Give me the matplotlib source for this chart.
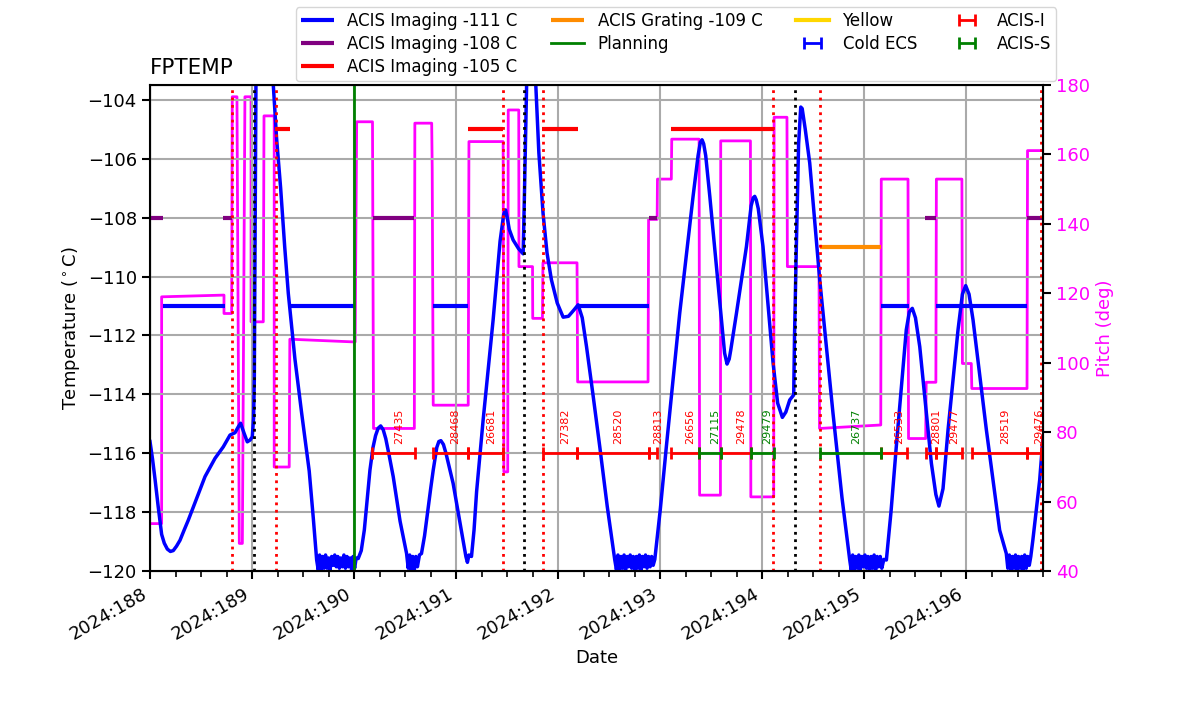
import numpy as np
import matplotlib
matplotlib.use("Agg")
import matplotlib.pyplot as plt
from matplotlib.ticker import MultipleLocator, FuncFormatter

# model FPTEMP (day of year 2024, deg C)
fptemp_pts = [
    (188.000, -115.6), (188.025, -116.2), (188.05, -116.9), (188.08, -117.8),
    (188.114, -118.75), (188.14, -119.05), (188.17, -119.25), (188.2, -119.33),
    (188.228, -119.3), (188.26, -119.15), (188.294, -118.95), (188.335, -118.6),
    (188.375, -118.27), (188.457, -117.53),
    (188.539, -116.79), (188.637, -116.17), (188.718, -115.78), (188.784, -115.38),
    (188.833, -115.30), (188.865, -115.1), (188.888, -114.98), (188.92, -115.3),
    (188.953, -115.61), (188.98, -115.55),
    (189.002, -115.44), (189.015, -114.8), (189.022, -113.5), (189.03, -108.5),
    (189.038, -103.5), (189.08, -100.5), (189.14, -100.0), (189.208, -103.5),
    (189.24, -105.3), (189.28, -107.0), (189.32, -109.0), (189.355, -110.57),
    (189.42, -112.8), (189.486, -114.64), (189.56, -116.6), (189.6, -118.2),
    (189.633, -119.62),
    (189.648, -119.95), (189.662, -119.45), (189.676, -119.95), (189.69, -119.5),
    (189.705, -119.9), (189.72, -119.45), (189.735, -119.9), (189.75, -119.55),
    (189.765, -119.95), (189.78, -119.5), (189.795, -119.8), (189.81, -119.45),
    (189.825, -119.85), (189.84, -119.5), (189.855, -119.9), (189.87, -119.55),
    (189.885, -119.85), (189.9, -119.45), (189.915, -119.9), (189.93, -119.5),
    (189.945, -119.85), (189.96, -119.55), (189.975, -119.95), (189.99, -119.5),
    (190.005, -119.9), (190.02, -119.55), (190.04, -119.57),
    (190.07, -119.3), (190.1, -118.6), (190.13, -117.5), (190.155, -116.57),
    (190.185, -115.8), (190.21, -115.4), (190.235, -115.15), (190.26, -115.07),
    (190.285, -115.2), (190.31, -115.5), (190.345, -116.1), (190.383, -116.79),
    (190.45, -118.3), (190.514, -119.4),
    (190.53, -119.9), (190.545, -119.45), (190.56, -119.95), (190.575, -119.5),
    (190.59, -119.95), (190.605, -119.5), (190.62, -119.85), (190.64, -119.45),
    (190.66, -119.4), (190.69, -118.8), (190.72, -118.0), (190.75, -117.2),
    (190.775, -116.57), (190.81, -115.8), (190.83, -115.6),
    (190.85, -115.57), (190.875, -115.7), (190.9, -116.0), (190.97, -117.02),
    (191.04, -118.4), (191.095, -119.5), (191.11, -119.7), (191.125, -119.45),
    (191.15, -119.5), (191.175, -118.6),
    (191.2, -117.3), (191.264, -114.87), (191.362, -111.47), (191.43, -108.8),
    (191.465, -107.9), (191.484, -107.74), (191.5, -108.0), (191.52, -108.4),
    (191.558, -108.76), (191.61, -109.05),
    (191.656, -109.23), (191.67, -107.0), (191.69, -103.5), (191.72, -101.5),
    (191.75, -101.5), (191.78, -103.5), (191.81, -105.8), (191.851, -107.85),
    (191.89, -109.2), (191.933, -110.11), (191.99, -110.9), (192.048, -111.38),
    (192.1, -111.35), (192.15, -111.15), (192.195, -110.96), (192.235, -111.4),
    (192.277, -112.38), (192.34, -114.0), (192.407, -115.78), (192.48, -117.8),
    (192.554, -119.62),
    (192.57, -119.95), (192.585, -119.45), (192.6, -119.95), (192.615, -119.5),
    (192.63, -119.9), (192.645, -119.45), (192.66, -119.95), (192.675, -119.5),
    (192.69, -119.85), (192.705, -119.45), (192.72, -119.9), (192.735, -119.5),
    (192.75, -119.95), (192.765, -119.5), (192.78, -119.9), (192.795, -119.45),
    (192.81, -119.95), (192.825, -119.5), (192.84, -119.85), (192.855, -119.45),
    (192.87, -119.9), (192.885, -119.5), (192.9, -119.85), (192.915, -119.5),
    (192.93, -119.8), (192.946, -119.6),
    (193.0, -117.9), (193.059, -115.78), (193.19, -111.25), (193.321, -107.28),
    (193.37, -105.9), (193.392, -105.45), (193.409, -105.36), (193.425, -105.5),
    (193.445, -105.9), (193.485, -107.28),
    (193.599, -111.47), (193.63, -112.6), (193.654, -112.97), (193.675, -112.8),
    (193.69, -112.5), (193.746, -111.25), (193.844, -108.98), (193.89, -107.6),
    (193.91, -107.33), (193.925, -107.28), (193.94, -107.4),
    (193.96, -107.7), (194.006, -108.98), (194.105, -112.94), (194.15, -114.3),
    (194.196, -114.78), (194.23, -114.6), (194.268, -114.19), (194.307, -114.02),
    (194.315, -112.0), (194.333, -108.98), (194.355, -105.5), (194.376, -104.25),
    (194.39, -104.3), (194.42, -105.0), (194.464, -106.15), (194.562, -110.11),
    (194.692, -114.64), (194.78, -117.5), (194.856, -119.62),
    (194.87, -119.95), (194.885, -119.45), (194.9, -119.95), (194.915, -119.5),
    (194.93, -119.9), (194.945, -119.45), (194.96, -119.95), (194.975, -119.5),
    (194.99, -119.85), (195.005, -119.45), (195.02, -119.9), (195.035, -119.5),
    (195.05, -119.95), (195.065, -119.5), (195.08, -119.9), (195.095, -119.45),
    (195.11, -119.95), (195.125, -119.5), (195.14, -119.85), (195.155, -119.5),
    (195.17, -119.9), (195.19, -119.6), (195.215, -119.62),
    (195.26, -118.0), (195.312, -115.78), (195.41, -111.81), (195.44, -111.2),
    (195.469, -111.08), (195.5, -111.4), (195.542, -112.38), (195.656, -116.34),
    (195.7, -117.4), (195.73, -117.79), (195.77, -117.2), (195.819, -115.21),
    (195.917, -111.81), (195.96, -110.6), (195.992, -110.31), (196.025, -110.6),
    (196.064, -111.47), (196.195, -115.21), (196.325, -118.61), (196.39, -119.4),
    (196.405, -119.9), (196.42, -119.45), (196.435, -119.95), (196.45, -119.5),
    (196.465, -119.9), (196.48, -119.45), (196.495, -119.95), (196.51, -119.5),
    (196.525, -119.9), (196.54, -119.5), (196.555, -119.95), (196.57, -119.45),
    (196.585, -119.9), (196.6, -119.5), (196.615, -119.8), (196.63, -119.5),
    (196.65, -118.95), (196.717, -116.91), (196.75, -115.44),
]

# pitch (deg)
pitch_pts = [
    (188.0, 53.7), (188.114, 53.7), (188.114, 119.0), (188.725, 119.5),
    (188.725, 114.2), (188.80, 114.2), (188.806, 176.6), (188.852, 176.6),
    (188.875, 48.0), (188.905, 48.0), (188.93, 176.6), (188.99, 176.6),
    (188.99, 111.8), (189.11, 111.8), (189.117, 171.1), (189.217, 171.1),
    (189.217, 70.0), (189.364, 70.0), (189.37, 106.8), (190.01, 106.0),
    (190.025, 169.4), (190.18, 169.4), (190.19, 81.1), (190.59, 81.1),
    (190.595, 169.0), (190.76, 169.0), (190.765, 156.0), (190.775, 87.8),
    (191.118, 87.8), (191.125, 163.7), (191.46, 163.7), (191.467, 68.6),
    (191.505, 68.6), (191.51, 172.8), (191.613, 172.8), (191.615, 127.7),
    (191.748, 127.7), (191.75, 112.8), (191.845, 112.8), (191.85, 128.8),
    (192.184, 128.8), (192.19, 94.5), (192.88, 94.5), (192.885, 141.3),
    (192.969, 141.3), (192.972, 152.9), (193.108, 152.9), (193.112, 164.4),
    (193.38, 164.4), (193.385, 61.9), (193.589, 61.9), (193.592, 163.9),
    (193.883, 163.9), (193.887, 61.4), (194.111, 61.4), (194.115, 170.7),
    (194.241, 170.7), (194.245, 127.7), (194.555, 127.7), (194.56, 81.1),
    (195.16, 82.1), (195.165, 152.9), (195.427, 152.9), (195.432, 78.2),
    (195.60, 78.2), (195.605, 94.4), (195.70, 94.4), (195.705, 152.9),
    (195.955, 152.9), (195.96, 99.8), (196.047, 99.8), (196.052, 92.6),
    (196.593, 92.6), (196.598, 161.1), (196.75, 161.1),
]

# limit segments (start, stop)
lim_111 = [(188.13, 188.735), (189.364, 190.0), (190.775, 191.118),
           (192.18, 192.886), (195.166, 195.437), (195.70, 196.595)]
lim_108 = [(188.0, 188.13), (188.718, 188.806), (190.187, 190.588),
           (192.886, 192.968), (195.59, 195.70), (196.595, 196.75)]
lim_105 = [(189.224, 189.37), (191.118, 191.46), (191.845, 192.195),
           (193.108, 194.111)]
lim_109 = [(194.562, 195.166)]
planning_time = 190.0

red_events = [188.806, 189.231, 191.46, 191.852, 194.105, 194.568, 196.733]
black_events = [189.021, 191.666, 194.324]

# observations (start, stop, obsid)
acis_i = [(190.18, 190.596, "27435"), (190.768, 191.118, "28468"),
          (191.118, 191.46, "26681"), (191.852, 192.184, "27382"),
          (192.18, 192.886, "28520"), (192.886, 192.968, "28813"),
          (193.108, 193.38, "26656"), (193.598, 193.892, "29478"),
          (195.166, 195.42, "26533"), (195.606, 195.697, "28801"),
          (195.697, 195.958, "29477"), (196.056, 196.595, "28519"),
          (196.595, 196.733, "29476")]
acis_s = [(193.38, 193.598, "27115"), (193.892, 194.111, "29479"),
          (194.568, 195.166, "26737")]
obs_y = -116.0

fig = plt.figure(figsize=(12, 7.14), dpi=100)
ax = fig.add_axes([0.125, 0.200, 0.7442, 0.681])
ax2 = ax.twinx()
ax.set_zorder(ax2.get_zorder() + 1)
ax.patch.set_visible(False)

p = np.array(pitch_pts)
ax2.plot(p[:, 0], p[:, 1], color="magenta", lw=2)
ax2.set_ylim(40, 180)
ax2.set_ylabel("Pitch (deg)", color="magenta", fontsize=13)
ax2.tick_params(axis="y", labelcolor="magenta", labelsize=13, length=6, width=1.5)

t = np.array(fptemp_pts)
ax.plot(t[:, 0], t[:, 1], color="blue", lw=2.5)

handles = []
for segs, col, lab in [(lim_111, "blue", "ACIS Imaging -111 C"),
                       (lim_108, "purple", "ACIS Imaging -108 C"),
                       (lim_105, "red", "ACIS Imaging -105 C"),
                       (lim_109, "darkorange", "ACIS Grating -109 C")]:
    val = float(lab.split()[-2])
    h = ax.hlines([val] * len(segs), [s[0] for s in segs], [s[1] for s in segs],
                  colors=col, lw=3, label=lab)
    handles.append(h)

h = ax.axvline(planning_time, color="green", lw=2, label="Planning")
handles.append(h)
h, = ax.plot([], [], color="gold", lw=3, label="Yellow")
handles.append(h)

for x in red_events:
    ax.axvline(x, color="red", ls=":", lw=2)
for x in black_events:
    ax.axvline(x, color="black", ls=":", lw=2)

h = ax.errorbar([np.nan], [np.nan], xerr=[np.nan], fmt="none", ecolor="blue",
                elinewidth=2, capsize=4, capthick=2, label="Cold ECS")
handles.append(h)
for obs, col, lab in [(acis_i, "red", "ACIS-I"), (acis_s, "green", "ACIS-S")]:
    mid = np.array([(a + b) / 2 for a, b, _ in obs])
    half = np.array([(b - a) / 2 for a, b, _ in obs])
    h = ax.errorbar(mid, np.full(len(mid), obs_y), xerr=half, fmt="none",
                    ecolor=col, elinewidth=2, capsize=4, capthick=2, label=lab)
    handles.append(h)
    for m, (_, _, name) in zip(mid, obs):
        ax.text(m, obs_y + 0.3, name, color=col, fontsize=8, rotation=90,
                ha="left", va="bottom", clip_on=True)

ax.set_xlim(188.0, 196.75)
ax.set_ylim(-120, -103.5)
ax.xaxis.set_major_locator(MultipleLocator(1))
ax.xaxis.set_minor_locator(MultipleLocator(0.25))
ax.xaxis.set_major_formatter(FuncFormatter(lambda v, pos: f"2024:{int(round(v)):03d}"))
ax.yaxis.set_major_locator(MultipleLocator(2))
ax.tick_params(axis="both", labelsize=13, length=6, width=1.5)
ax.tick_params(axis="x", which="minor", length=4, width=1.2)
for lbl in ax.get_xticklabels():
    lbl.set_rotation(30)
    lbl.set_ha("right")
ax.grid(True, color="#aaaaaa", lw=1.5)
for sp in ax.spines.values():
    sp.set_linewidth(1.5)
ax.set_xlabel("Date", fontsize=13)
ax.set_ylabel(r"Temperature ($^\circ$C)", fontsize=13)
ax.set_title("FPTEMP", loc="left", fontsize=15.5, pad=8)

ax.legend(handles=handles, loc="upper center", bbox_to_anchor=(0.589, 1.16),
          borderaxespad=0, ncol=4, fontsize=12, labelspacing=0.3, borderpad=0.3)

fig.savefig("out.png", dpi=100)
